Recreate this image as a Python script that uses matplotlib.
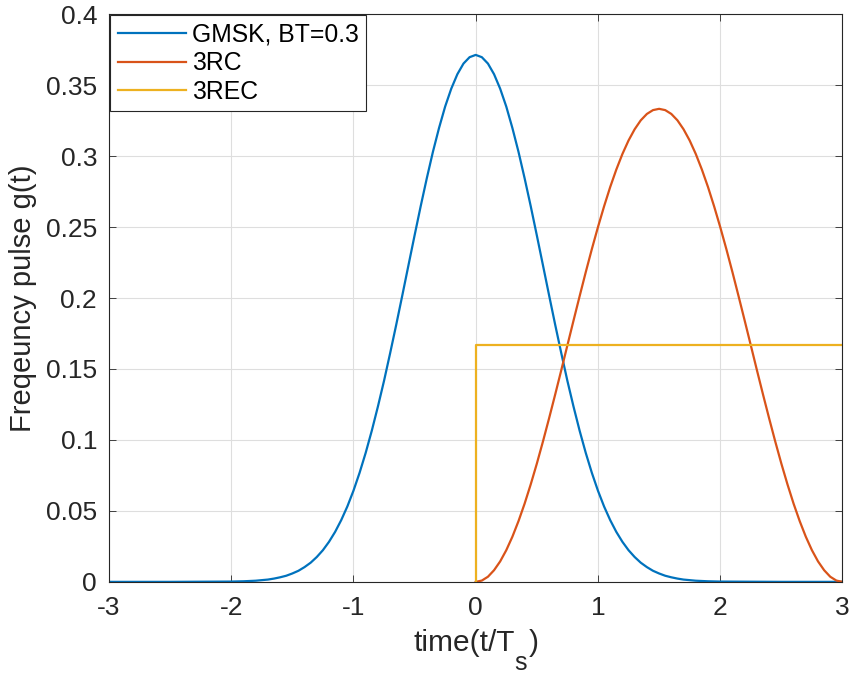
import numpy as np
import matplotlib
matplotlib.use("Agg")
import matplotlib.pyplot as plt

# frequency pulse shapes

gmsk_t = [-3.0, -2.5,
          -2.0, -1.95, -1.9, -1.85, -1.8, -1.75, -1.7, -1.65, -1.6, -1.55,
          -1.5, -1.45, -1.4, -1.35, -1.3, -1.25, -1.2, -1.15, -1.1, -1.05,
          -1.0, -0.95, -0.9, -0.85, -0.8, -0.75, -0.7, -0.65, -0.6, -0.55,
          -0.5, -0.45, -0.4, -0.35, -0.3, -0.25, -0.2, -0.15, -0.1, -0.05,
          0.0, 0.05, 0.1, 0.15, 0.2, 0.25, 0.3, 0.35, 0.4, 0.45,
          0.5, 0.55, 0.6, 0.65, 0.7, 0.75, 0.8, 0.85, 0.9, 0.95,
          1.0, 1.05, 1.1, 1.15, 1.2, 1.25, 1.3, 1.35, 1.4, 1.45,
          1.5, 1.55, 1.6, 1.65, 1.7, 1.75, 1.8, 1.85, 1.9, 1.95,
          2.0, 2.5, 3.0]
gmsk_g = [0.0, 0.0,
          0.0002, 0.0003, 0.0004, 0.0006, 0.0008, 0.0012, 0.0016, 0.0023, 0.0032, 0.0043,
          0.0059, 0.0078, 0.0104, 0.0135, 0.0175, 0.0223, 0.0282, 0.0352, 0.0435, 0.0531,
          0.0642, 0.0768, 0.0909, 0.1065, 0.1235, 0.1416, 0.1611, 0.1812, 0.2020, 0.2231,
          0.2441, 0.2647, 0.2844, 0.3030, 0.3198, 0.3349, 0.3475, 0.3577, 0.3652, 0.3697,
          0.3713, 0.3697, 0.3652, 0.3577, 0.3475, 0.3349, 0.3198, 0.3030, 0.2844, 0.2647,
          0.2441, 0.2231, 0.2020, 0.1812, 0.1611, 0.1416, 0.1235, 0.1065, 0.0909, 0.0768,
          0.0642, 0.0531, 0.0435, 0.0352, 0.0282, 0.0223, 0.0175, 0.0135, 0.0104, 0.0078,
          0.0059, 0.0043, 0.0032, 0.0023, 0.0016, 0.0012, 0.0008, 0.0006, 0.0004, 0.0003,
          0.0002, 0.0, 0.0]

rc_t = [0.0, 0.05, 0.1, 0.15, 0.2, 0.25, 0.3, 0.35, 0.4, 0.45,
        0.5, 0.55, 0.6, 0.65, 0.7, 0.75, 0.8, 0.85, 0.9, 0.95,
        1.0, 1.05, 1.1, 1.15, 1.2, 1.25, 1.3, 1.35, 1.4, 1.45,
        1.5, 1.55, 1.6, 1.65, 1.7, 1.75, 1.8, 1.85, 1.9, 1.95,
        2.0, 2.05, 2.1, 2.15, 2.2, 2.25, 2.3, 2.35, 2.4, 2.45,
        2.5, 2.55, 2.6, 2.65, 2.7, 2.75, 2.8, 2.85, 2.9, 2.95, 3.0]
rc_g = [0.0, 0.0009, 0.0036, 0.0082, 0.0144, 0.0223, 0.0318, 0.0428, 0.0551, 0.0687,
        0.0833, 0.0989, 0.1152, 0.1320, 0.1492, 0.1667, 0.1841, 0.2013, 0.2182, 0.2345,
        0.2500, 0.2646, 0.2782, 0.2905, 0.3015, 0.3110, 0.3189, 0.3252, 0.3297, 0.3324,
        0.3333, 0.3324, 0.3297, 0.3252, 0.3189, 0.3110, 0.3015, 0.2905, 0.2782, 0.2646,
        0.2500, 0.2345, 0.2182, 0.2013, 0.1841, 0.1667, 0.1492, 0.1320, 0.1152, 0.0989,
        0.0833, 0.0687, 0.0551, 0.0428, 0.0318, 0.0223, 0.0144, 0.0082, 0.0036, 0.0009, 0.0]

rec_t = [0.0, 0.0, 3.0]
rec_g = [0.0, 0.1667, 0.1667]

labels = ["GMSK, BT=0.3", "3RC", "3REC"]
xticks = [-3, -2, -1, 0, 1, 2, 3]
yticks = [0, 0.05, 0.1, 0.15, 0.2, 0.25, 0.3, 0.35, 0.4]
yticklabels = ["0", "0.05", "0.1", "0.15", "0.2", "0.25", "0.3", "0.35", "0.4"]

plt.rcParams['font.family'] = ['Liberation Sans', 'DejaVu Sans']
plt.rcParams['axes.unicode_minus'] = False

dark = '#262626'
W, H = 851, 675

fig = plt.figure(figsize=(W / 100, H / 100), dpi=100)
ax = fig.add_axes([0.128, 0.138, 0.862, 0.841])

ax.plot(gmsk_t, gmsk_g, color='#0072BD', lw=1.6, label=labels[0])
ax.plot(rc_t, rc_g, color='#D95319', lw=1.6, label=labels[1])
ax.plot(rec_t, rec_g, color='#EDB120', lw=1.6, label=labels[2])

ax.set_xlim(-3, 3)
ax.set_ylim(0, 0.4)
ax.set_xticks(xticks)
ax.set_xticklabels([str(v) for v in xticks])
ax.set_yticks(yticks)
ax.set_yticklabels(yticklabels)

ax.grid(True, color='#dedede', lw=0.8)
ax.set_axisbelow(True)
ax.tick_params(direction='in', top=True, right=True, length=5, width=0.6,
               labelsize=19, colors=dark)
ax.tick_params(axis='x', pad=10)
ax.tick_params(axis='y', pad=8.5)
for s in ax.spines.values():
    s.set_color(dark)
    s.set_linewidth(0.8)

ax.set_ylabel('Freqeuncy pulse g(t)', fontsize=21, color=dark)
ax.yaxis.set_label_coords(-0.098, 0.5)

# x label with a deep subscript, built from pieces
t1 = fig.text(413 / W, 1 - 651 / H, 'time(t/T', fontsize=21.5, color=dark,
              ha='left', va='baseline')
t2 = ax.annotate('s', xy=(1, 0), xycoords=t1, xytext=(0, -13),
                 textcoords='offset pixels', fontsize=18, color=dark,
                 ha='left', va='baseline', annotation_clip=False)
t3 = ax.annotate(')', xy=(1, 0), xycoords=(t2, t1), xytext=(2, 0),
                 textcoords='offset pixels', fontsize=21.5, color=dark,
                 ha='left', va='bottom', annotation_clip=False)

leg = ax.legend(loc='upper left', fontsize=17.8, fancybox=False, framealpha=1,
                edgecolor=dark, borderaxespad=0.05, handlelength=2.75,
                handletextpad=0.25, labelspacing=0.18, borderpad=0.3)
leg.get_frame().set_linewidth(0.8)
for t in leg.get_texts():
    t.set_color('black')

fig.savefig('out.png', dpi=100)
